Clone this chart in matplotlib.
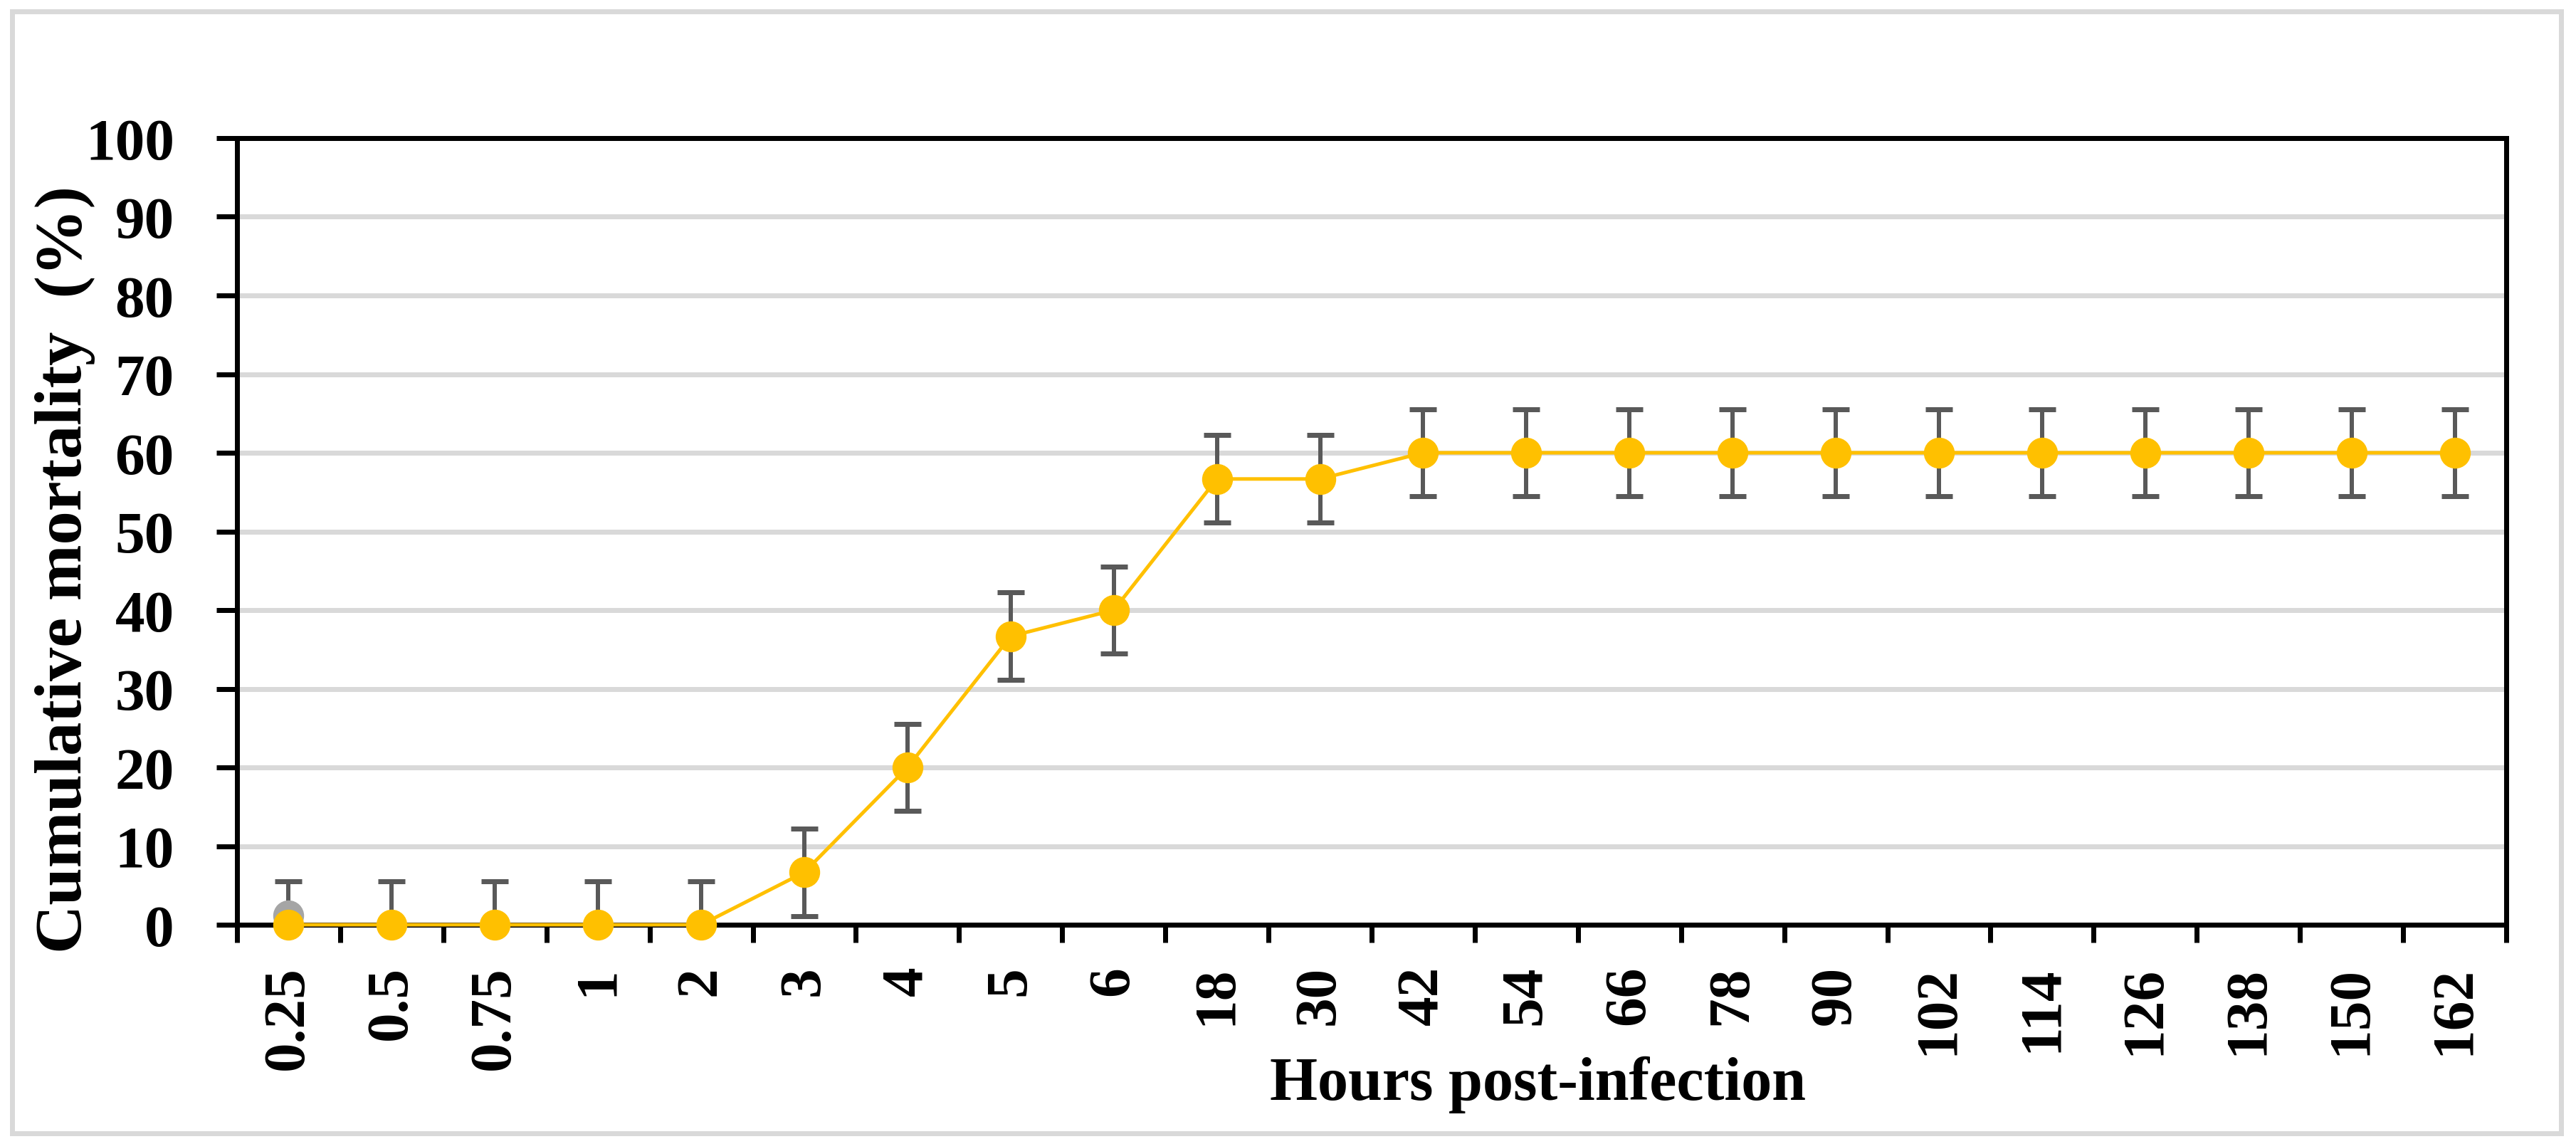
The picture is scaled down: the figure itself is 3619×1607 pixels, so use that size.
import matplotlib
matplotlib.use('Agg')
import matplotlib.pyplot as plt
from matplotlib.patches import Rectangle

# data
hours = ['0.25', '0.5', '0.75', '1', '2', '3', '4', '5', '6', '18', '30',
         '42', '54', '66', '78', '90', '102', '114', '126', '138', '150', '162']
mortality = [0, 0, 0, 0, 0, 6.67, 20, 36.67, 40, 56.67, 56.67,
             60, 60, 60, 60, 60, 60, 60, 60, 60, 60, 60]
mortality_err = [5.56, 5.56, 5.56, 5.56, 5.56, 5.56, 5.56, 5.56, 5.56, 5.56, 5.56,
                 5.56, 5.56, 5.56, 5.56, 5.56, 5.56, 5.56, 5.56, 5.56, 5.56, 5.56]
control_hours = ['0.25']
control = [1.2]

yticks = [0, 10, 20, 30, 40, 50, 60, 70, 80, 90, 100]

W, H, DPI = 3619, 1608, 100
PX = 72 / DPI  # points per pixel

plt.rcParams['font.family'] = ['Liberation Serif', 'DejaVu Serif']
plt.rcParams['font.weight'] = 'bold'

fig = plt.figure(figsize=(W / DPI, H / DPI), dpi=DPI)
ax = fig.add_axes([333 / W, 1 - 1300 / H, (3521 - 333) / W, (1300 - 195) / H])

x = list(range(len(hours)))
xc = [hours.index(h) for h in control_hours]

# grid
ax.set_axisbelow(True)
ax.yaxis.grid(True, color='#D9D9D9', linewidth=7 * PX)

# error bars (clipped at zero like the original)
ax.errorbar(x, mortality, yerr=mortality_err, fmt='none', ecolor='#595959',
            elinewidth=6 * PX, capsize=19 * PX, capthick=7 * PX, zorder=3)

ax.plot(xc, control, 'o', color='#A5A5A5', markersize=42 * PX, zorder=4, clip_on=False)
ax.plot(x, mortality, '-', color='#FFC000', linewidth=5 * PX, zorder=5, clip_on=False)
ax.plot(x, mortality, 'o', color='#FFC000', markersize=42 * PX, zorder=6, clip_on=False)

ax.set_xlim(-0.5, len(hours) - 0.5)
ax.set_ylim(0, 100)
ax.set_yticks(yticks)
ax.set_yticklabels([str(v) for v in yticks], fontsize=60, fontweight='bold')

# ticks between categories, labels at the centres
ax.set_xticks([i - 0.5 for i in range(len(hours) + 1)])
ax.set_xticklabels([])
ax.set_xticks(x, minor=True)
ax.set_xticklabels(hours, minor=True, rotation=90, fontsize=60, fontweight='bold')
ax.tick_params(axis='x', which='major', length=25 * PX, width=7 * PX, direction='out')
ax.tick_params(axis='x', which='minor', length=0, pad=57 * PX)
ax.tick_params(axis='y', length=29 * PX, width=7 * PX, direction='out', pad=59 * PX)

for s in ax.spines.values():
    s.set_linewidth(7 * PX)
    s.set_color('black')
    s.set_zorder(2)

fig.text(92 / W, 1 - 800 / H, 'Cumulative mortality  (%)', rotation=90,
         ha='center', va='center', fontsize=68, fontweight='bold')
fig.text(2160 / W, 1 - 1545 / H, 'Hours post-infection', ha='center', va='baseline',
         fontsize=62, fontweight='bold')

# light grey outer frame
fig.patches.append(Rectangle((17 / W, 15 / H), (3598 - 17) / W, (1593 - 17) / H,
                             transform=fig.transFigure, fill=False,
                             edgecolor='#D9D9D9', linewidth=7 * PX))

fig.savefig('out.png', dpi=DPI)
